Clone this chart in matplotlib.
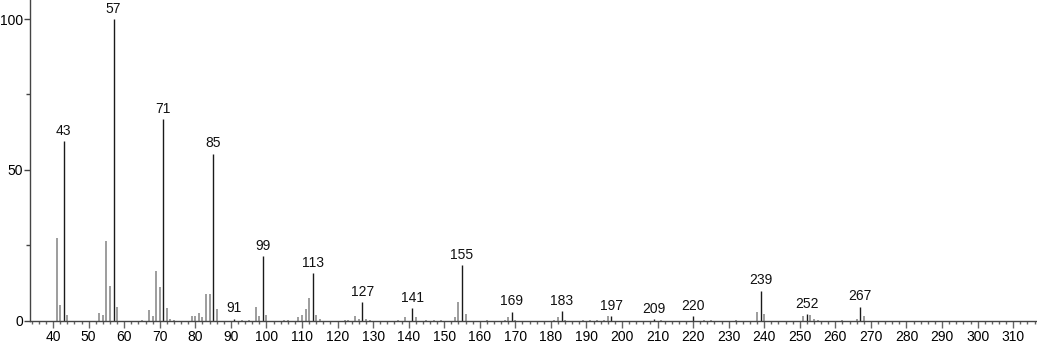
import matplotlib
matplotlib.use("Agg")
import matplotlib.pyplot as plt
from matplotlib.ticker import MultipleLocator

plt.rcParams['font.family'] = ['Liberation Sans', 'DejaVu Sans']

# m/z and relative intensity (%)
mz = [41, 42, 43, 44,
      53, 54, 55, 56, 57, 58,
      65, 67, 68, 69, 70, 71, 72, 73, 74,
      79, 80, 81, 82, 83, 84, 85, 86,
      91, 93, 95, 97, 98, 99, 100,
      105, 106, 109, 110, 111, 112, 113, 114, 115,
      122, 123, 125, 126, 127, 128, 129,
      137, 139, 141, 142, 145, 147, 149,
      153, 154, 155, 156,
      162, 167, 168, 169, 170,
      181, 182, 183, 184,
      189, 191, 193, 195, 196, 197,
      209, 211, 220, 223, 225, 232,
      238, 239, 240,
      251, 252, 253, 254, 255,
      262, 266, 267, 268]
intensity = [27.5, 5.3, 59.5, 2.0,
             2.4, 1.8, 26.5, 11.5, 100.0, 4.7,
             0.3, 3.4, 1.6, 16.6, 11.3, 66.8, 4.3, 0.6, 0.4,
             1.6, 1.4, 2.5, 1.3, 9.0, 9.0, 55.3, 4.0,
             0.6, 0.3, 0.3, 4.7, 1.5, 21.3, 2.0,
             0.3, 0.4, 1.3, 2.0, 4.0, 7.5, 15.8, 1.8, 0.5,
             0.3, 0.4, 1.7, 0.6, 6.2, 0.7, 0.3,
             0.3, 1.1, 4.2, 1.3, 0.3, 0.3, 0.3,
             1.3, 6.3, 18.4, 2.3,
             0.3, 0.4, 1.1, 3.0, 0.3,
             0.3, 1.1, 3.1, 0.4,
             0.3, 0.3, 0.3, 0.4, 1.4, 1.5,
             0.5, 0.3, 1.4, 0.3, 0.4, 0.3,
             3.0, 10.0, 2.3,
             1.6, 2.1, 1.9, 0.5, 0.3,
             0.4, 0.6, 4.7, 1.4]

labeled = [43, 57, 71, 85, 91, 99, 113, 127, 141, 155,
           169, 183, 197, 209, 220, 239, 252, 267]

fig = plt.figure(figsize=(10.37, 3.45), dpi=100)
ax = fig.add_axes([0.0289, 0.0704, 0.9711, 0.9296])

gray_x = [m for m in mz if m not in labeled]
gray_y = [v for m, v in zip(mz, intensity) if m not in labeled]
blk_x = [m for m in mz if m in labeled]
blk_y = [v for m, v in zip(mz, intensity) if m in labeled]

ax.vlines(gray_x, 0, gray_y, color='#8c8c8c', linewidth=1.2)
ax.vlines(blk_x, 0, blk_y, color='#1a1a1a', linewidth=1.0)

for m, v in zip(blk_x, blk_y):
    ax.annotate(str(m), (m, v), xytext=(0, 2.5), textcoords='offset points',
                ha='center', va='bottom', fontsize=10, color='#111111')

ax.set_xlim(33.5, 316.7)
ax.set_ylim(0, 106.3)

for s in ['top', 'right']:
    ax.spines[s].set_visible(False)
for s in ['left', 'bottom']:
    ax.spines[s].set_color('#444444')
    ax.spines[s].set_linewidth(1.0)

ax.xaxis.set_major_locator(MultipleLocator(10))
ax.xaxis.set_minor_locator(MultipleLocator(2))
ax.set_xticks(range(40, 311, 10))
ax.yaxis.set_major_locator(MultipleLocator(50))
ax.yaxis.set_minor_locator(MultipleLocator(25))

ax.tick_params(axis='x', which='major', direction='out', length=5, width=1,
               color='#666666', labelsize=10, pad=1.5)
ax.tick_params(axis='x', which='minor', direction='out', length=2.5, width=1,
               color='#666666')
ax.tick_params(axis='y', which='major', direction='out', length=4.5, width=1,
               color='#444444', labelsize=10, pad=0.5)
ax.tick_params(axis='y', which='minor', direction='out', length=3, width=1,
               color='#444444')

fig.savefig('out.png', dpi=100)
